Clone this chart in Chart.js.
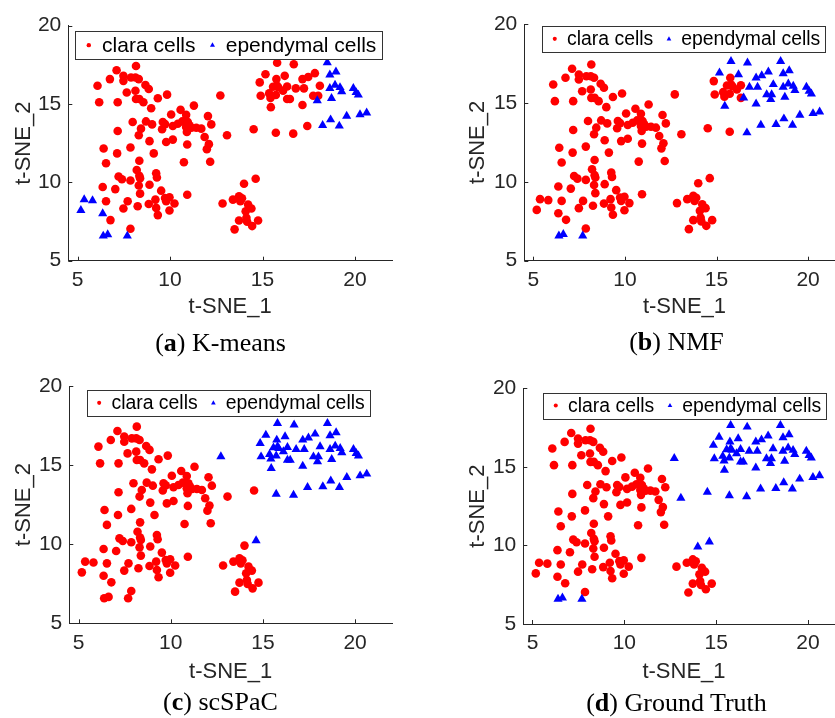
<!DOCTYPE html>
<html>
<head>
<meta charset="utf-8">
<script src="https://cdn.jsdelivr.net/npm/chart.js@4.4.1/dist/chart.umd.min.js"></script>
<style>
html, body { margin: 0; padding: 0; background: #fff; }
#fig { position: relative; width: 835px; height: 718px; overflow: hidden; }
#fig canvas { position: absolute; }
.cap { position: absolute; width: 415px; text-align: center; font-family: "Liberation Serif", "Times New Roman", serif; font-size: 26px; line-height: 30px; color: #000; }
</style>
</head>
<body>
<div id="fig">
  <canvas id="kmeans" width="415" height="330" style="left:0;top:0"></canvas>
  <canvas id="nmf" width="435" height="330" style="left:415px;top:0"></canvas>
  <canvas id="scspac" width="415" height="330" style="left:0;top:360px"></canvas>
  <canvas id="truth" width="435" height="330" style="left:415px;top:360px"></canvas>
  <div class="cap" style="left:13px;top:328px">(<b>a</b>) K-means</div>
  <div class="cap" style="left:469px;top:327px">(<b>b</b>) NMF</div>
  <div class="cap" style="left:13px;top:687px">(<b>c</b>) scSPaC</div>
  <div class="cap" style="left:469px;top:688px">(<b>d</b>) Ground Truth</div>
</div>
<script>
const xTicks = [5, 10, 15, 20];
const yTicks = [5, 10, 15, 20];
const seriesNames = ["clara cells", "ependymal cells"];

// [t-SNE_1, t-SNE_2], grouped by how the four methods label them

// clara in every panel
const leftCloud = [
    [8.16, 17.43], [7.11, 17.16], [7.48, 16.80], [6.75, 16.59], [7.48, 16.48], [7.89, 16.69], [8.13, 16.69],
    [8.31, 16.59], [6.08, 16.17], [7.66, 15.74], [8.13, 15.85], [8.67, 16.21], [8.85, 15.96], [6.17, 15.11],
    [7.17, 15.11], [8.16, 15.32], [8.34, 15.32], [8.56, 15.11], [9.34, 15.37], [9.84, 15.60], [8.98, 14.73],
    [7.98, 13.85], [8.70, 13.89], [8.43, 13.43], [9.03, 13.70], [9.61, 13.85], [9.73, 13.72], [9.57, 13.39],
    [7.17, 13.28], [8.31, 13.01], [8.89, 12.63], [10.06, 14.33], [10.57, 14.63], [10.87, 14.31], [11.29, 14.90],
    [10.15, 13.60], [10.42, 13.74], [10.66, 13.89], [10.96, 13.85], [10.87, 13.53], [11.05, 13.64], [10.91, 13.22],
    [11.16, 13.49], [11.42, 13.49], [11.69, 13.43], [12.05, 14.23], [12.23, 13.70], [11.87, 12.90], [9.79, 12.58],
    [10.15, 12.73], [10.93, 12.42], [12.10, 12.44], [11.99, 12.12], [12.17, 11.32], [10.75, 11.28],
    [6.41, 12.16], [7.86, 12.23], [7.14, 11.85], [9.12, 11.85], [6.54, 11.22], [8.34, 11.38], [8.20, 10.79],
    [8.34, 10.42], [8.38, 10.27], [7.22, 10.37], [7.40, 10.20], [7.86, 10.12], [9.25, 10.58], [9.29, 10.31],
    [6.36, 9.70], [7.04, 9.57], [8.31, 9.80], [8.89, 9.85], [9.52, 9.47], [8.38, 9.28], [10.93, 9.21],
    [6.54, 8.79], [7.71, 8.79], [8.25, 8.48], [8.85, 8.62], [9.21, 8.90], [9.25, 8.37], [9.73, 9.00],
    [9.97, 9.05], [9.79, 8.79], [10.24, 8.65], [9.97, 8.20], [9.34, 7.91], [7.48, 8.33], [6.78, 7.59], [7.86, 7.04]
];
const lowerRightCloud = [
    [12.84, 8.65], [13.40, 8.90], [13.73, 9.11], [13.89, 8.99], [13.80, 8.79], [14.22, 8.58], [14.40, 8.33],
    [14.09, 8.16], [14.13, 7.74], [14.17, 7.49], [13.73, 7.57], [14.44, 7.21], [14.76, 7.57], [13.49, 7.00]
];

// ependymal only for K-means
const kmeansOnlyEpend = [[5.36, 8.90], [5.81, 8.84], [5.18, 8.22], [6.36, 8.01]];
// ependymal for K-means, NMF and ground truth
const southWestEpend = [[6.39, 6.58], [6.63, 6.67], [7.69, 6.58]];
// ependymal for scSPaC and ground truth
const bridgeEpend = [[12.72, 15.54], [14.63, 10.23]];
// ependymal only in the ground truth
const truthOnlyEpend = [[13.08, 13.01], [14.52, 13.39], [14.00, 9.91]];

// right cluster
const rightAll = [
    [18.50, 17.64], [18.64, 16.86], [18.97, 17.05], [17.96, 15.22], [18.64, 16.00], [18.73, 15.37], [18.92, 16.21],
    [19.19, 16.06], [19.28, 15.79], [19.91, 16.00], [20.06, 15.74], [20.18, 15.58], [20.63, 14.44], [20.27, 14.33],
    [19.55, 14.23], [19.15, 13.60], [18.68, 14.00], [18.25, 13.64]
];
const rightNotKmeans = [
    [15.79, 17.64], [16.69, 17.54], [15.16, 16.90], [16.20, 16.80], [17.16, 16.59], [17.47, 16.73], [17.83, 16.97],
    [16.48, 15.32], [16.80, 16.00], [17.24, 16.00], [15.45, 14.80], [17.16, 14.94], [17.74, 15.53], [18.10, 16.17],
    [18.01, 15.53], [17.42, 13.60], [16.66, 13.11]
];
const rightScspacTruth = [
    [14.85, 16.38], [15.75, 16.59], [14.90, 15.53], [15.36, 15.68], [15.43, 15.39], [15.57, 16.10], [15.79, 16.17],
    [15.86, 16.06], [15.72, 15.58], [16.11, 15.85], [16.33, 16.12], [16.33, 15.32], [15.72, 13.17]
];

const AXIS = "#262626";
const SANS = '"Liberation Sans", Arial, Helvetica, sans-serif';

const panels = [
    {
        id: "kmeans",
        clara: [leftCloud, lowerRightCloud, bridgeEpend, truthOnlyEpend, rightNotKmeans, rightScspacTruth],
        epend: [kmeansOnlyEpend, southWestEpend, rightAll],
        box: { left: 68.3, top: 25.7, right: 392, bottom: 260.7, yTitle: 24, xTitle: 307 },
        legend: { dx: 7, dy: 5.3, size: 21, h: 28.3 }
    },
    {
        id: "nmf",
        clara: [leftCloud, lowerRightCloud, kmeansOnlyEpend, bridgeEpend, truthOnlyEpend, rightScspacTruth],
        epend: [southWestEpend, rightAll, rightNotKmeans],
        box: { left: 109.3, top: 24, right: 431.8, bottom: 260.7, yTitle: 63.3, xTitle: 306.7 },
        legend: { dx: 18, dy: 2, size: 19.4, h: 25.7 }
    },
    {
        id: "scspac",
        clara: [leftCloud, lowerRightCloud, kmeansOnlyEpend, southWestEpend, truthOnlyEpend],
        epend: [bridgeEpend, rightAll, rightNotKmeans, rightScspacTruth],
        box: { left: 69.3, top: 26, right: 392, bottom: 263.3, yTitle: 24, xTitle: 311.7 },
        legend: { dx: 17.4, dy: 4, size: 19.4, h: 25.7 }
    },
    {
        id: "truth",
        clara: [leftCloud, lowerRightCloud, kmeansOnlyEpend],
        epend: [southWestEpend, bridgeEpend, truthOnlyEpend, rightAll, rightNotKmeans, rightScspacTruth],
        box: { left: 108.3, top: 28.3, right: 431, bottom: 264, yTitle: 63.3, xTitle: 311.7 },
        legend: { dx: 20, dy: 4.4, size: 19.4, h: 25.6 }
    }
];

function toPoints(groups) {
    return groups.flat().map(p => ({ x: p[0], y: p[1] }));
}

// MATLAB style: short ticks pointing into the axes
const insideTicks = {
    id: "insideTicks",
    afterDraw(chart) {
        const { ctx, chartArea: a, scales: { x, y } } = chart;
        ctx.save();
        ctx.strokeStyle = AXIS;
        ctx.lineWidth = 1;
        ctx.beginPath();
        x.ticks.forEach(t => {
            const px = Math.round(x.getPixelForValue(t.value)) + 0.5;
            ctx.moveTo(px, a.bottom);
            ctx.lineTo(px, a.bottom - 4);
        });
        y.ticks.forEach(t => {
            const py = Math.round(y.getPixelForValue(t.value)) + 0.5;
            ctx.moveTo(a.left, py);
            ctx.lineTo(a.left + 4, py);
        });
        ctx.stroke();
        ctx.restore();
    }
};

// boxed legend inside the axes
const boxLegend = {
    id: "boxLegend",
    afterDraw(chart, args, opts) {
        const { ctx, chartArea: a } = chart;
        const s = opts.size / 21;
        ctx.save();
        ctx.font = opts.size + "px " + SANS;
        const w0 = ctx.measureText(seriesNames[0]).width;
        const w1 = ctx.measureText(seriesNames[1]).width;
        const left = a.left + opts.dx;
        const top = a.top + opts.dy;
        const width = 13.5 * s + 13.3 * s + w0 + 17 * s + 13.3 * s + w1 + 5.5 * s;
        const cy = top + opts.h / 2;

        ctx.fillStyle = "#fff";
        ctx.fillRect(left, top, width, opts.h);
        ctx.strokeStyle = "#333";
        ctx.lineWidth = 1;
        ctx.strokeRect(Math.round(left) + 0.5, Math.round(top) + 0.5, Math.round(width), Math.round(opts.h));

        const dotX = left + 13.5 * s;
        ctx.fillStyle = "#ff0000";
        ctx.beginPath();
        ctx.arc(dotX, cy, 2.2 * s, 0, Math.PI * 2);
        ctx.fill();

        const triX = dotX + 13.3 * s + w0 + 17 * s;
        const r = 2.8 * s;
        ctx.fillStyle = "#0000ff";
        ctx.beginPath();
        ctx.moveTo(triX, cy - r);
        ctx.lineTo(triX + r * 0.9, cy + r * 0.6);
        ctx.lineTo(triX - r * 0.9, cy + r * 0.6);
        ctx.closePath();
        ctx.fill();

        ctx.fillStyle = "#000";
        ctx.textBaseline = "middle";
        ctx.textAlign = "left";
        ctx.fillText(seriesNames[0], dotX + 13.3 * s, cy + 1);
        ctx.fillText(seriesNames[1], triX + 13.3 * s, cy + 1);
        ctx.restore();
    }
};

function makePanel(p) {
    const canvas = document.getElementById(p.id);
    const W = canvas.width, H = canvas.height, b = p.box;
    const titleHalf = 22 * 1.2 / 2;
    return new Chart(canvas, {
        type: "scatter",
        data: {
            datasets: [
                {
                    label: seriesNames[0],
                    data: toPoints(p.clara),
                    pointStyle: "circle",
                    pointRadius: 4.3,
                    pointBackgroundColor: "#ff0000",
                    pointBorderColor: "#ff0000",
                    pointBorderWidth: 0,
                    order: 2
                },
                {
                    label: seriesNames[1],
                    data: toPoints(p.epend),
                    pointStyle: "triangle",
                    pointRadius: 5.3,
                    pointBackgroundColor: "#0000ff",
                    pointBorderColor: "#0000ff",
                    pointBorderWidth: 0,
                    order: 1
                }
            ]
        },
        options: {
            responsive: false,
            animation: false,
            events: [],
            layout: { padding: { left: 0, top: b.top, right: W - b.right, bottom: 0 } },
            plugins: {
                legend: { display: false },
                tooltip: { enabled: false },
                boxLegend: p.legend
            },
            scales: {
                x: {
                    type: "linear",
                    min: 4.5,
                    max: 22,
                    afterBuildTicks: scale => { scale.ticks = xTicks.map(v => ({ value: v })); },
                    afterFit: scale => { scale.height = H - b.bottom; },
                    grid: { display: false, drawTicks: false },
                    border: { display: true, color: AXIS, width: 1 },
                    ticks: { color: AXIS, font: { family: SANS, size: 21 }, padding: 7, maxRotation: 0 },
                    title: {
                        display: true, text: "t-SNE_1", color: AXIS,
                        font: { family: SANS, size: 22 },
                        padding: { top: 0, bottom: H - b.xTitle - titleHalf }
                    }
                },
                y: {
                    type: "linear",
                    min: 5,
                    max: 20,
                    afterBuildTicks: scale => { scale.ticks = yTicks.map(v => ({ value: v })); },
                    afterFit: scale => { scale.width = b.left; },
                    grid: { display: false, drawTicks: false },
                    border: { display: true, color: AXIS, width: 1 },
                    ticks: { color: AXIS, font: { family: SANS, size: 21 }, padding: 7 },
                    title: {
                        display: true, text: "t-SNE_2", color: AXIS,
                        font: { family: SANS, size: 22 },
                        padding: { top: b.yTitle - titleHalf, bottom: 0 }
                    }
                }
            }
        },
        plugins: [insideTicks, boxLegend]
    });
}

panels.forEach(makePanel);
</script>
</body>
</html>
